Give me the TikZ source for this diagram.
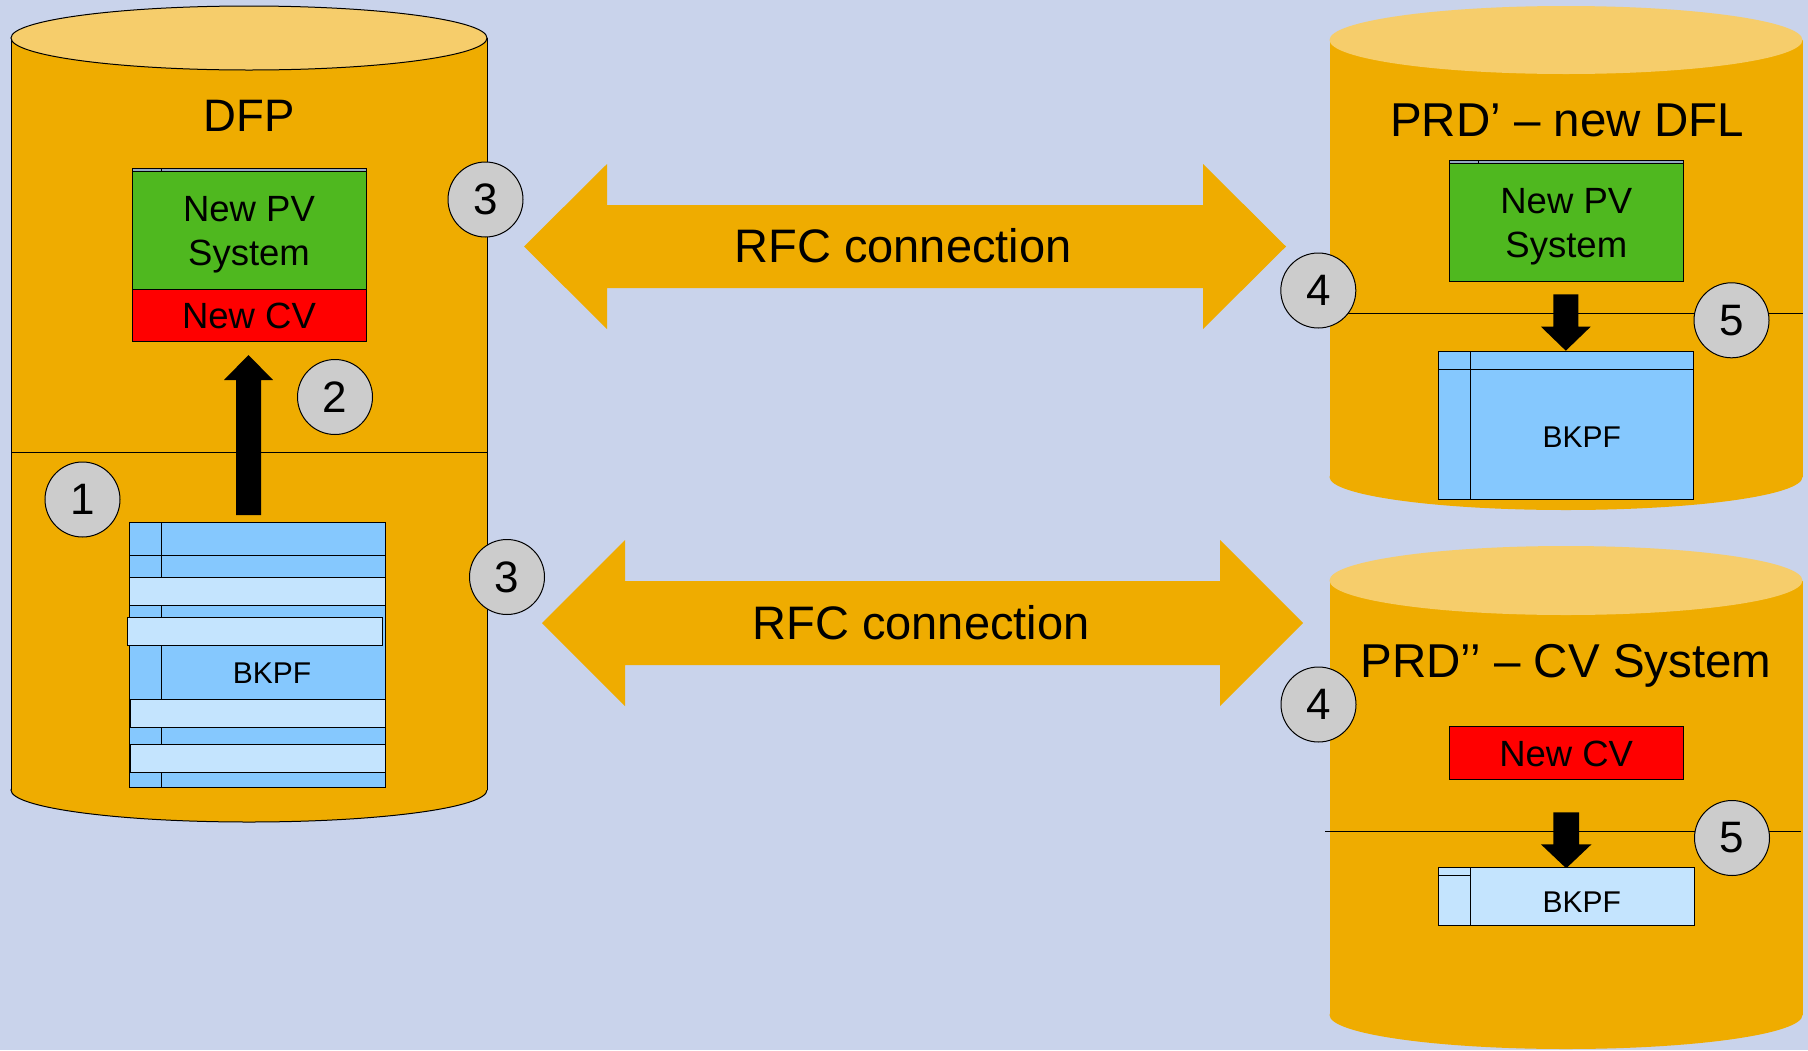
\documentclass[tikz,border=0pt]{standalone}
\usepackage{fontspec}
\setmainfont{Liberation Sans}
\usetikzlibrary{calc}
\definecolor{bgc}{HTML}{C9D3EB}
\definecolor{cylc}{HTML}{EFAC00}
\definecolor{cyltop}{HTML}{F6CD6B}
\definecolor{greenc}{HTML}{4FB81F}
\definecolor{redc}{HTML}{FF0000}
\definecolor{bluedark}{HTML}{85C8FE}
\definecolor{bluelight}{HTML}{C4E4FE}
\definecolor{graycirc}{HTML}{CCCCCC}
\definecolor{stripc}{HTML}{93AAC2}
\newcommand\vblockarrow[5]{\fill[black] ($(#1)+(-#3,0)$) -- ($(#2)+(-#3,#5)$) -- ($(#2)+(-#4,#5)$) -- (#2) -- ($(#2)+(#4,#5)$) -- ($(#2)+(#3,#5)$) -- ($(#1)+(#3,0)$) -- cycle;}
\begin{document}
\begin{tikzpicture}[x=1pt,y=-1pt,
  numc/.style={circle, draw=black, line width=1pt, fill=graycirc, minimum size=75pt, inner sep=0pt, font=\fontsize{44}{44}\selectfont},
  txt/.style={inner sep=0pt, anchor=base},
  boxn/.style={rectangle, draw=black, line width=1pt, inner sep=0pt},
  titlef/.style={font=\fontsize{47.5}{50}\selectfont},
  rfcf/.style={font=\fontsize{47}{50}\selectfont},
  boxf/.style={font=\fontsize{36.5}{40}\selectfont},
  tabf/.style={font=\fontsize{30}{32}\selectfont}]
\useasboundingbox (0,0) rectangle (1808,1050);
\fill[bgc] (0,0) rectangle (1808,1050);

% ---------- left cylinder (DFP) ----------
\path[fill=cylc, draw=black, line width=1pt] (249,790) ellipse [x radius=238pt, y radius=32pt];
\fill[cylc] (11,38) rectangle (487,790);
\draw[line width=1pt] (11,38) -- (11,790) (487,38) -- (487,790);
\path[fill=cyltop, draw=black, line width=1pt] (249,38) ellipse [x radius=238pt, y radius=32pt];
\draw[line width=1pt] (11,452) -- (487,452);
\node[txt, font=\fontsize{45.5}{50}\selectfont] (dfp) at (249,131.7) {DFP};

% boxes
\path[fill=stripc, draw=black, line width=0.6pt] (132,168.5) rectangle (366,171.5);
\draw[line width=0.6pt] (161,168.5) -- (161,171.5);
\node[boxn, fill=greenc, minimum width=234pt, minimum height=117.5pt] (pvL) at (249,230.25) {};
\node[boxn, fill=redc, minimum width=234pt, minimum height=52pt] (cvL) at (249,315) {};
\node[txt, boxf] (pvLt1) at (249,221.7) {New PV};
\node[txt, boxf] (pvLt2) at (249,265.7) {System};
\node[txt, boxf] (cvLt) at (249,328.3) {New CV};

% BKPF table (left)
\node[boxn, fill=bluedark, minimum width=256pt, minimum height=265pt] (bkL) at (257,654.5) {};
\draw[line width=1pt] (161,522) -- (161,787) (129,555) -- (385,555);
\path[fill=bluelight, draw=black, line width=1pt] (129,577) rectangle (385,605);
\path[fill=bluelight, draw=black, line width=1pt] (127,617) rectangle (382,645);
\path[fill=bluelight, draw=black, line width=1pt] (130,699) rectangle (385,727);
\path[fill=bluelight, draw=black, line width=1pt] (130,744) rectangle (385,772);
\node[txt, tabf] (bkLt) at (272,683.3) {BKPF};

% black arrow up
\coordinate (aLs) at (248.5,515);
\coordinate (aLt) at (248.5,355);
\vblockarrow{aLs}{aLt}{12.5}{24.5}{25}

% ---------- right top cylinder ----------
\fill[cylc] (1566,477) ellipse [x radius=236.5pt, y radius=33pt];
\fill[cylc] (1329.5,40) rectangle (1802.5,477);
\fill[cyltop] (1566,40) ellipse [x radius=236.5pt, y radius=34pt];
\draw[line width=1pt] (1330,313.3) -- (1802.5,313.3);
\node[txt, titlef] (prd1) at (1567,136.3) {PRD’ – new DFL};

\path[fill=stripc, draw=black, line width=0.6pt] (1449.3,160.7) rectangle (1683.3,163.3);
\draw[line width=0.6pt] (1478,160.7) -- (1478,163.3);
\node[boxn, fill=greenc, minimum width=234pt, minimum height=117.7pt] (pvR) at (1566.3,222.15) {};
\node[txt, boxf] (pvRt1) at (1566.3,213.3) {New PV};
\node[txt, boxf] (pvRt2) at (1566.3,257.7) {System};

\coordinate (aRs) at (1565.8,294.3);
\coordinate (aRt) at (1565.8,350.7);
\vblockarrow{aRs}{aRt}{12.5}{24.85}{-24}

\node[boxn, fill=bluedark, minimum width=255pt, minimum height=147.7pt] (bkR) at (1565.8,425.15) {};
\draw[line width=1pt] (1470,351.3) -- (1470,499) (1438.3,369.3) -- (1693.3,369.3);
\node[txt, tabf] (bkRt) at (1581.7,447.3) {BKPF};

% ---------- right bottom cylinder ----------
\fill[cylc] (1566,1015) ellipse [x radius=236.5pt, y radius=34pt];
\fill[cylc] (1329.5,580.5) rectangle (1802.5,1015);
\fill[cyltop] (1566,580.5) ellipse [x radius=236.5pt, y radius=34.5pt];
\draw[line width=1pt] (1325,831) -- (1801,831);
\node[txt, titlef] (prd2) at (1566,677) {PRD’’ – CV System};

\node[boxn, fill=redc, minimum width=234pt, minimum height=52.6pt] (cvR) at (1566.2,753) {};
\node[txt, boxf] (cvRt) at (1566.2,766) {New CV};

\coordinate (aBs) at (1566.2,812.3);
\coordinate (aBt) at (1566.2,868.3);
\vblockarrow{aBs}{aBt}{12.85}{25.3}{-24}

\node[boxn, fill=bluelight, minimum width=256pt, minimum height=58.4pt] (bkB) at (1566.3,896.5) {};
\draw[line width=1pt] (1470.7,867.3) -- (1470.7,925.7) (1438.3,875) -- (1470.7,875);
\node[txt, tabf] (bkBt) at (1581.7,912.3) {BKPF};

% ---------- RFC arrows ----------
\fill[cylc] (524,246.5) -- (607,164) -- (607,205) -- (1203,205) -- (1203,164) -- (1286,246.5)
  -- (1203,329) -- (1203,288) -- (607,288) -- (607,329) -- cycle;
\node[txt, rfcf] (rfc1) at (903,262.5) {RFC connection};
\fill[cylc] (542,623) -- (625,540) -- (625,581) -- (1220,581) -- (1220,540) -- (1303,623)
  -- (1220,706) -- (1220,665) -- (625,665) -- (625,706) -- cycle;
\node[txt, rfcf] (rfc2) at (921,639.4) {RFC connection};

% ---------- numbered circles ----------
\node[numc] (c1) at (82.5,499.5) {1};
\node[numc] (c2) at (335,397) {2};
\node[numc] (c3a) at (485.5,199.5) {3};
\node[numc] (c3b) at (507,577) {3};
\node[numc] (c4a) at (1318.3,290.5) {4};
\node[numc] (c5a) at (1731.5,320.3) {5};
\node[numc] (c4b) at (1318.5,704.5) {4};
\node[numc] (c5b) at (1732,838) {5};
\end{tikzpicture}
\end{document}
